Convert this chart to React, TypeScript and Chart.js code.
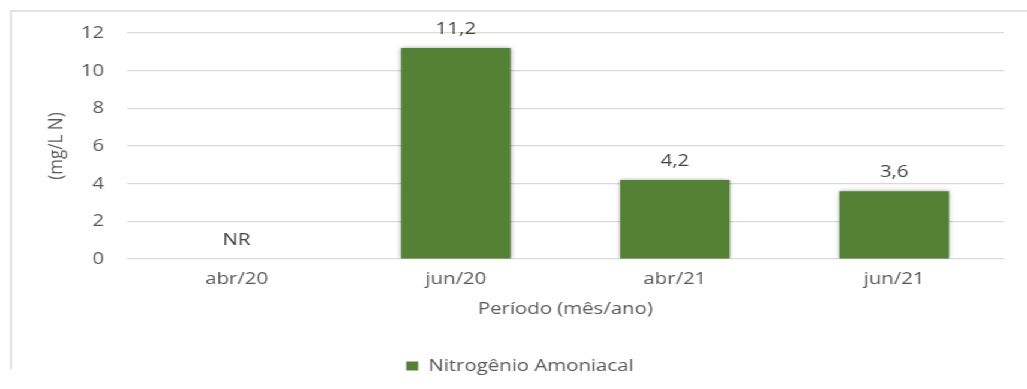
import React, { useEffect, useRef } from "react";
import { Chart, registerables } from "chart.js";

Chart.register(...registerables);

const categories = ["abr/20", "jun/20", "abr/21", "jun/21"];
const values: (number | null)[] = [null, 11.2, 4.2, 3.6];
const yTicks = [0, 2, 4, 6, 8, 10, 12];
const seriesName = "Nitrogênio Amoniacal";
const missingLabel = "NR";
const yTitle = "(mg/L N)";
const xTitle = "Período (mês/ano)";

const STRETCH = 1.2;
const W = Math.round(1027 / STRETCH);
const H = 389;
const FONT = "'Open Sans', 'DejaVu Sans', sans-serif";
const BAR = "#548235";
const TEXT = "#595959";
const GRID = "#d9d9d9";

const framePlugin = {
  id: "frame",
  beforeDraw(chart: any) {
    const ctx = chart.ctx;
    ctx.save();
    ctx.strokeStyle = GRID;
    ctx.lineWidth = 1.5;
    ctx.beginPath();
    ctx.moveTo(11 / STRETCH, 369);
    ctx.lineTo(11 / STRETCH, 11);
    ctx.lineTo(chart.width, 11);
    ctx.stroke();
    ctx.restore();
  },
};

const barLabelPlugin = {
  id: "barLabels",
  beforeDatasetsDraw(chart: any) {
    const ctx = chart.ctx;
    ctx.save();
    ctx.shadowColor = "rgba(0,0,0,0.35)";
    ctx.shadowBlur = 4;
  },
  afterDatasetsDraw(chart: any) {
    const ctx = chart.ctx;
    ctx.restore();
    const xs = chart.scales.x;
    const ys = chart.scales.y;
    ctx.save();
    ctx.fillStyle = "#404040";
    ctx.font = `17px ${FONT}`;
    ctx.textAlign = "center";
    ctx.textBaseline = "alphabetic";
    values.forEach((v, i) => {
      const x = xs.getPixelForValue(i);
      const top = ys.getPixelForValue(v == null ? 0 : v);
      const text = v == null ? missingLabel : v.toFixed(1).replace(".", ",");
      ctx.fillText(text, x, top - 14);
    });
    ctx.restore();
  },
};

export default function App() {
  const ref = useRef<HTMLCanvasElement | null>(null);

  useEffect(() => {
    if (!ref.current) return;
    Chart.defaults.font.family = FONT;
    const chart = new Chart(ref.current, {
      type: "bar",
      data: {
        labels: categories,
        datasets: [
          {
            label: seriesName,
            data: values,
            backgroundColor: BAR,
            borderWidth: 0,
            categoryPercentage: 1,
            barPercentage: 0.5,
          },
        ],
      },
      options: {
        responsive: false,
        animation: false,
        devicePixelRatio: 1,
        layout: {
          padding: { left: 30, right: W - 1004 / STRETCH, top: 33, bottom: 4.5 },
        },
        plugins: {
          tooltip: { enabled: false },
          legend: {
            position: "bottom",
            labels: {
              boxWidth: 10,
              boxHeight: 9,
              padding: 19,
              color: TEXT,
              font: { size: 17, family: FONT },
            },
          },
        },
        scales: {
          x: {
            grid: { display: false },
            border: { display: false },
            ticks: { color: TEXT, font: { size: 17, family: FONT }, padding: 2, maxRotation: 0 },
            title: {
              display: true,
              text: xTitle,
              color: TEXT,
              font: { size: 17, family: FONT },
              padding: { top: 0, bottom: 19 },
            },
            afterFit(scale: any) {
              scale.height = 79.5;
            },
          },
          y: {
            min: 0,
            max: 12,
            grid: { color: GRID, drawTicks: false, lineWidth: 1.2 },
            border: { display: false },
            ticks: { color: TEXT, font: { size: 17, family: FONT }, padding: 19 },
            afterBuildTicks(scale: any) {
              scale.ticks = yTicks.map((v) => ({ value: v }));
            },
            title: {
              display: true,
              text: yTitle,
              color: TEXT,
              font: { size: 17, family: FONT },
              padding: { top: 7, bottom: 0 },
            },
            afterFit(scale: any) {
              scale.width = 127 / STRETCH - 30;
            },
          },
        },
      },
      plugins: [framePlugin, barLabelPlugin],
    });
    return () => chart.destroy();
  }, []);

  return (
    <div
      style={{
        position: "absolute",
        left: 0,
        top: 0,
        width: W,
        height: H,
        transform: `scaleX(${1027 / W})`,
        transformOrigin: "0 0",
        background: "#fff",
      }}
    >
      <canvas ref={ref} width={W} height={H} style={{ width: W, height: H, display: "block" }} />
    </div>
  );
}
